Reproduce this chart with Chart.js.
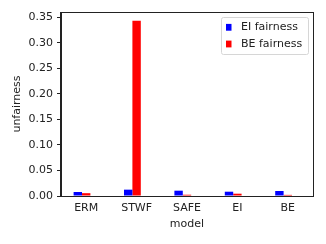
<!DOCTYPE html>
<html lang="en">
<head>
  <meta charset="UTF-8" />
  <title>unfairness by model</title>
  <script src="https://cdn.jsdelivr.net/npm/chart.js"></script>
  <style>
    html, body { margin: 0; padding: 0; background: #fff; }
    #wrap { width: 326px; height: 244px; position: relative; }
  </style>
</head>
<body>
  <div id="wrap"><canvas id="chart" width="326" height="244"></canvas></div>
  <script>
    const models = ["ERM", "STWF", "SAFE", "EI", "BE"];
    const eiFairness = [0.0078, 0.0124, 0.0104, 0.0084, 0.0098];
    const beFairness = [0.0055, 0.3430, 0.0025, 0.0045, 0.0022];
    const yTicks = [0, 0.05, 0.10, 0.15, 0.20, 0.25, 0.30, 0.35];

    const font = { family: "'DejaVu Sans', sans-serif", size: 11 };
    const ink = "#222";

    // matplotlib-style frame + legend box
    const framePlugin = {
      id: "frame",
      afterDraw(chart) {
        const { ctx, chartArea: a } = chart;
        ctx.save();
        ctx.strokeStyle = ink;
        ctx.lineWidth = 1;
        ctx.strokeRect(Math.round(a.left) - 0.5, Math.round(a.top) + 0.5,
          Math.round(a.right - a.left) + 1, Math.round(a.bottom - a.top));

        // legend
        const x = 221, y = 17, w = 87, h = 37;
        ctx.beginPath();
        ctx.roundRect(x + 0.5, y + 0.5, w, h, 2);
        ctx.fillStyle = "rgba(255,255,255,0.8)";
        ctx.fill();
        ctx.strokeStyle = "#d6d6d6";
        ctx.stroke();
        const items = [["EI fairness", "#0000ff"], ["BE fairness", "#ff0000"]];
        ctx.font = "11px 'DejaVu Sans', sans-serif";
        ctx.textBaseline = "middle";
        items.forEach(([label, color], i) => {
          const cy = 27.3 + i * 16.7;
          ctx.fillStyle = color;
          ctx.fillRect(226, cy - 3.4, 5.5, 6.8);
          ctx.fillStyle = ink;
          ctx.fillText(label, 241, cy);
        });
        ctx.restore();
      }
    };

    new Chart(document.getElementById("chart"), {
      type: "bar",
      data: {
        labels: models,
        datasets: [
          { label: "EI fairness", data: eiFairness, backgroundColor: "#0000ff" },
          { label: "BE fairness", data: beFairness, backgroundColor: "#ff0000" },
          { label: "", data: models.map(() => null), backgroundColor: "rgba(0,0,0,0)" }
        ]
      },
      options: {
        responsive: false,
        animation: false,
        categoryPercentage: 0.5,
        barPercentage: 1.0,
        layout: { padding: { left: 11, right: 13, top: 12, bottom: 13 } },
        plugins: { legend: { display: false }, tooltip: { enabled: false } },
        scales: {
          x: {
            grid: { display: false, drawTicks: true, tickLength: 4, color: ink },
            border: { display: true, color: ink, width: 1 },
            ticks: { color: ink, font, padding: 2, maxRotation: 0 },
            title: { display: true, text: "model", color: ink, font, padding: { top: 0, bottom: 0 } },
            afterFit(scale) { scale.height = 35; }
          },
          y: {
            min: 0,
            max: 0.36,
            grid: { display: true, drawOnChartArea: false, drawTicks: true, tickLength: 4, color: ink },
            border: { display: true, color: ink, width: 1 },
            ticks: {
              color: ink, font, padding: 4, stepSize: 0.05,
              callback: v => v.toFixed(2)
            },
            afterBuildTicks(scale) {
              scale.ticks = yTicks.map(v => ({ value: v }));
            },
            title: { display: true, text: "unfairness", color: ink, font, padding: { top: 0, bottom: 0 } },
            afterFit(scale) { scale.width = 50; }
          }
        }
      },
      plugins: [framePlugin]
    });
  </script>
</body>
</html>
